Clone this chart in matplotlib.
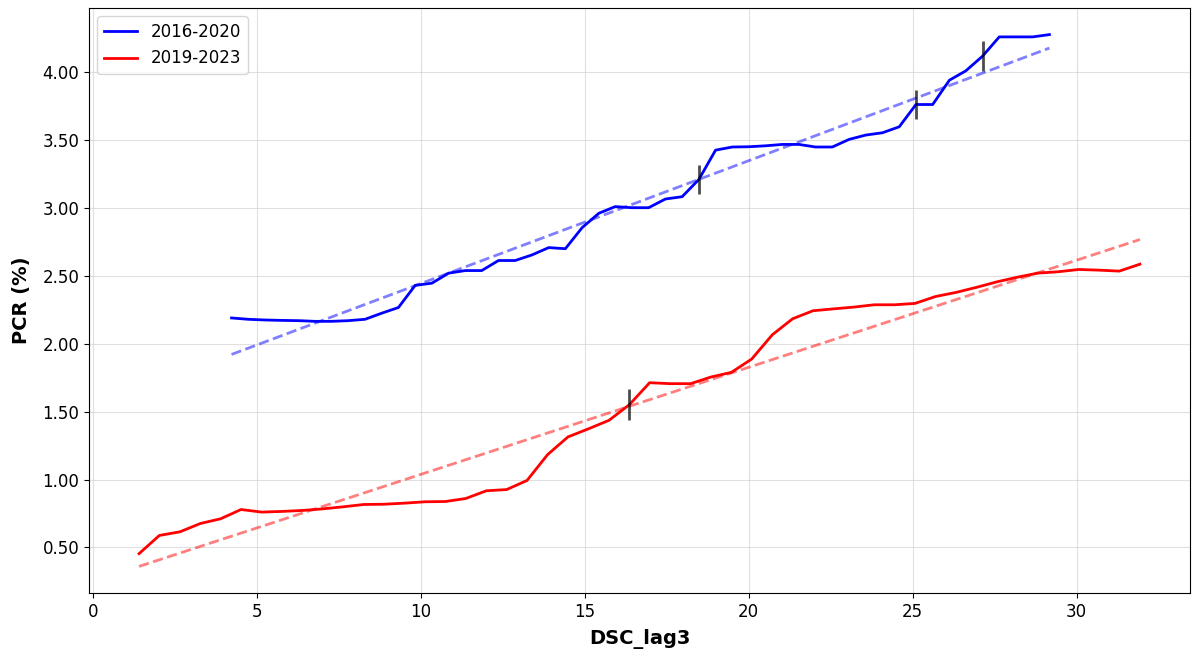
import numpy as np
import matplotlib
matplotlib.use("Agg")
import matplotlib.pyplot as plt
from matplotlib.ticker import FormatStrFormatter

# Binned PCR vs DSC_lag3, two rolling periods
x_2016 = [4.23, 4.74, 5.25, 5.76, 6.27, 6.78, 7.28, 7.79, 8.30, 8.81,
          9.32, 9.83, 10.34, 10.85, 11.36, 11.86, 12.37, 12.88, 13.39, 13.90,
          14.41, 14.92, 15.43, 15.93, 16.44, 16.95, 17.46, 17.97, 18.48, 18.99,
          19.50, 20.01, 20.52, 21.02, 21.53, 22.04, 22.55, 23.06, 23.57, 24.08,
          24.59, 25.10, 25.61, 26.12, 26.62, 27.13, 27.64, 28.15, 28.66, 29.17]
pcr_2016 = [2.19, 2.18, 2.175, 2.172, 2.17, 2.165, 2.165, 2.17, 2.18, 2.225,
            2.267, 2.43, 2.446, 2.52, 2.539, 2.539, 2.613, 2.613, 2.654, 2.708,
            2.70, 2.855, 2.961, 3.01, 3.002, 3.002, 3.066, 3.083, 3.21, 3.426,
            3.449, 3.451, 3.458, 3.468, 3.468, 3.449, 3.449, 3.505, 3.537, 3.554,
            3.598, 3.762, 3.762, 3.941, 4.01, 4.118, 4.26, 4.26, 4.26, 4.277]

x_2019 = [1.41, 2.03, 2.66, 3.28, 3.90, 4.52, 5.15, 5.77, 6.39, 7.02,
          7.64, 8.26, 8.88, 9.51, 10.13, 10.75, 11.37, 12.00, 12.62, 13.24,
          13.87, 14.49, 15.11, 15.74, 16.36, 16.98, 17.60, 18.23, 18.85, 19.47,
          20.09, 20.72, 21.34, 21.96, 22.59, 23.21, 23.83, 24.45, 25.07, 25.70,
          26.32, 26.94, 27.57, 28.19, 28.81, 29.43, 30.06, 30.68, 31.30, 31.93]
pcr_2019 = [0.454, 0.588, 0.615, 0.676, 0.711, 0.779, 0.76, 0.765, 0.772, 0.784,
            0.799, 0.816, 0.818, 0.826, 0.836, 0.838, 0.86, 0.917, 0.926, 0.993,
            1.184, 1.314, 1.373, 1.436, 1.551, 1.713, 1.706, 1.706, 1.755, 1.789,
            1.887, 2.066, 2.184, 2.243, 2.257, 2.27, 2.287, 2.287, 2.297, 2.348,
            2.378, 2.415, 2.456, 2.49, 2.52, 2.53, 2.547, 2.542, 2.535, 2.586]

# Uncertainty markers at selected bins
err_idx_2016 = [28, 41, 45]
err_2016 = [0.11, 0.11, 0.11]
err_idx_2019 = [24]
err_2019 = [0.115]

labels = ["2016-2020", "2019-2023"]

fig = plt.figure(figsize=(11.92, 6.55), dpi=100)
ax = fig.add_axes([89 / 1192, 1 - 593 / 655, (1190 - 89) / 1192, (593 - 8) / 655])

series = [
    (np.array(x_2016), np.array(pcr_2016), "blue", labels[0], err_idx_2016, err_2016),
    (np.array(x_2019), np.array(pcr_2019), "red", labels[1], err_idx_2019, err_2019),
]

for xs, ys, color, label, eidx, evals in series:
    ax.plot(xs, ys, color=color, lw=2, label=label)
    slope, intercept = np.polyfit(xs, ys, 1)
    ax.plot(xs, slope * xs + intercept, color=color, lw=2, ls="--", alpha=0.5)
    ax.errorbar(xs[eidx], ys[eidx], yerr=evals, fmt="none",
                ecolor="black", elinewidth=2, alpha=0.7, capsize=0)

ax.yaxis.set_major_formatter(FormatStrFormatter("%.2f"))
ax.grid(True, color="#cccccc", alpha=0.6, lw=0.8)
ax.tick_params(labelsize=12)
ax.set_xlabel("DSC_lag3", fontsize=14, fontweight="bold", labelpad=6)
ax.set_ylabel("PCR (%)", fontsize=14, fontweight="bold", labelpad=8)
ax.legend(loc="upper left", fontsize=12)

fig.savefig("out.png", dpi=100)
